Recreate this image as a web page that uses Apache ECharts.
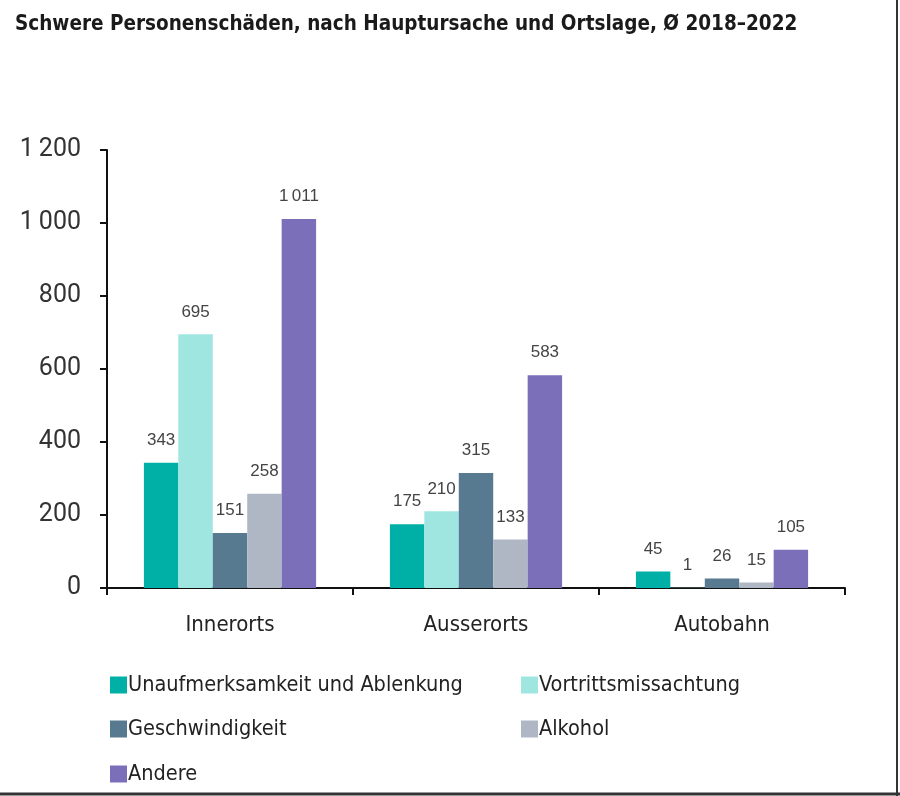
<!DOCTYPE html>
<html><head><meta charset="utf-8">
<script src="https://cdn.jsdelivr.net/npm/echarts@6/dist/echarts.min.js"></script>
<style>html,body{margin:0;padding:0;background:#fff}#c{width:900px;height:796px}</style>
</head><body><div id="c"></div>
<script>
const categories = ['Innerorts', 'Ausserorts', 'Autobahn'];
const seriesNames = ['Unaufmerksamkeit und Ablenkung', 'Vortrittsmissachtung', 'Geschwindigkeit', 'Alkohol', 'Andere'];
const unaufmerksamkeit = [343, 175, 45];
const vortritt = [695, 210, 1];
const geschwindigkeit = [151, 315, 26];
const alkohol = [258, 133, 15];
const andere = [1011, 583, 105];
const colors = ['#00B0A6', '#9FE6E0', '#587A90', '#B0B7C4', '#7A6FB8'];
const yTicks = [0, 200, 400, 600, 800, 1000, 1200];

const fmt = (v, sep) => String(v).replace(/\B(?=(\d{3})+(?!\d))/g, sep || '\u202F');
const condensed = '"Liberation Sans Narrow", "DejaVu Sans Condensed", Roboto, sans-serif';

const allData = [unaufmerksamkeit, vortritt, geschwindigkeit, alkohol, andere];
const legendPos = [[105, 669], [516, 669], [105, 713], [516, 713], [105, 758]];
const chart = echarts.init(document.getElementById('c'), null, {renderer: 'canvas'});
chart.setOption({
  animation: false,
  backgroundColor: '#fff',
  title: {
    text: 'Schwere Personenschäden, nach Hauptursache und Ortslage, Ø 2018–2022',
    left: 10, top: 9,
    textStyle: {fontFamily: condensed, fontWeight: 'bold', fontSize: 20.5, color: '#1a1a1a'}
  },
  legend: seriesNames.map((n, i) => ({
    data: [n], left: legendPos[i][0], top: legendPos[i][1],
    itemWidth: 17, itemHeight: 17, icon: 'rect',
    textStyle: {fontFamily: condensed, fontSize: 21.5, color: '#222', padding: [0, 0, 0, -4]}
  })),
  grid: {left: 107, right: 55, top: 150, bottom: 208, containLabel: false},
  xAxis: {
    type: 'category', data: categories,
    axisLine: {lineStyle: {color: '#111', width: 2}},
    axisTick: {show: true, length: 7, lineStyle: {color: '#111', width: 2}},
    axisLabel: {fontFamily: condensed, fontSize: 22, color: '#222', margin: 26}
  },
  yAxis: {
    type: 'value', min: 0, max: 1200, interval: 200,
    axisLine: {show: true, lineStyle: {color: '#111', width: 2}},
    axisTick: {show: true, length: 7, lineStyle: {color: '#111', width: 2}},
    splitLine: {show: false},
    axisLabel: {fontFamily: 'Roboto, "Liberation Sans", sans-serif', fontSize: 25, color: '#333', margin: 26,
      formatter: v => fmt(v, '\u2009')}
  },
  series: seriesNames.map((name, i) => ({
    name, type: 'bar', data: allData[i],
    barGap: '0%', barCategoryGap: '30%',
    itemStyle: {color: colors[i]},
    label: {show: true, position: 'top', distance: 14,
      fontFamily: '"Liberation Sans", Arial, sans-serif', fontSize: 17, color: '#444',
      formatter: p => fmt(p.value)}
  })),
  graphic: [
    {type: 'line', shape: {x1: 897, y1: 0, x2: 897, y2: 796}, style: {stroke: '#333', lineWidth: 2}},
    {type: 'line', shape: {x1: 0, y1: 794, x2: 900, y2: 794}, style: {stroke: '#333', lineWidth: 3}}
  ]
});
</script></body></html>
